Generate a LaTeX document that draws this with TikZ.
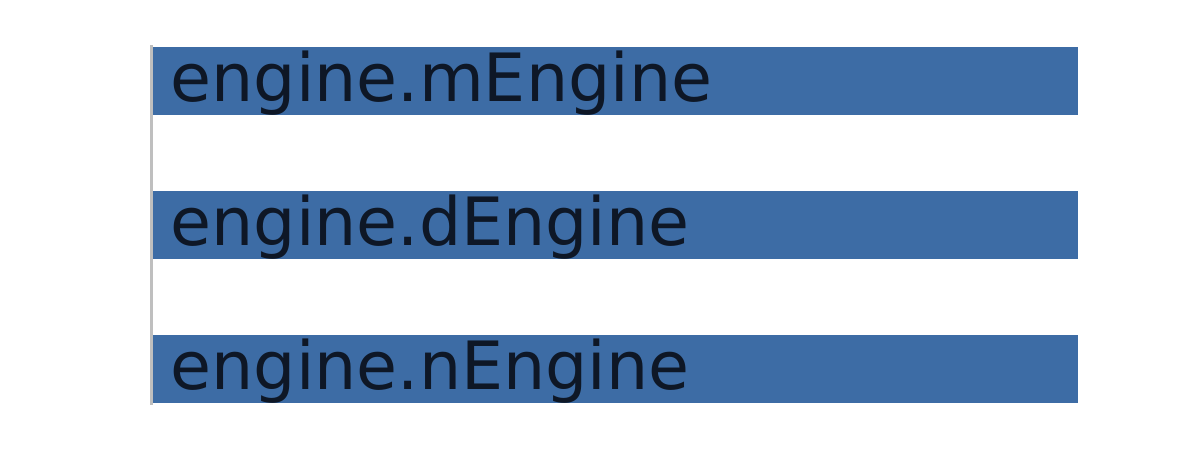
\documentclass[tikz,border=0pt]{standalone}
\usepackage{fontspec}
\setmainfont{DejaVu Sans}
\definecolor{barblue}{HTML}{3D6CA5}
\definecolor{txtnavy}{HTML}{0E1726}
\definecolor{axisgray}{HTML}{BFBFBF}
\begin{document}
\begin{tikzpicture}[x=1pt,y=-1pt,
  bar/.style={fill=barblue,draw=none,inner sep=0pt,minimum width=926pt,minimum height=68pt,anchor=north west},
  lbl/.style={text=txtnavy,font=\fontsize{66.6}{66.6}\selectfont,inner sep=0pt,anchor=base west}]
\useasboundingbox (0,0) rectangle (1200,450);
\node[bar] (b1) at (152,47) {};
\node[bar] (b2) at (152,191) {};
\node[bar] (b3) at (152,335) {};
\coordinate (axtop) at (151.5,45);
\coordinate (axbot) at (151.5,405);
\draw[axisgray,line width=2.5pt] (axtop) -- (axbot);
\node[lbl] (t1) at (170.5,101) {engine.mEngine};
\node[lbl] (t2) at (170.5,245) {engine.dEngine};
\node[lbl] (t3) at (170.5,389) {engine.nEngine};
\end{tikzpicture}
\end{document}
